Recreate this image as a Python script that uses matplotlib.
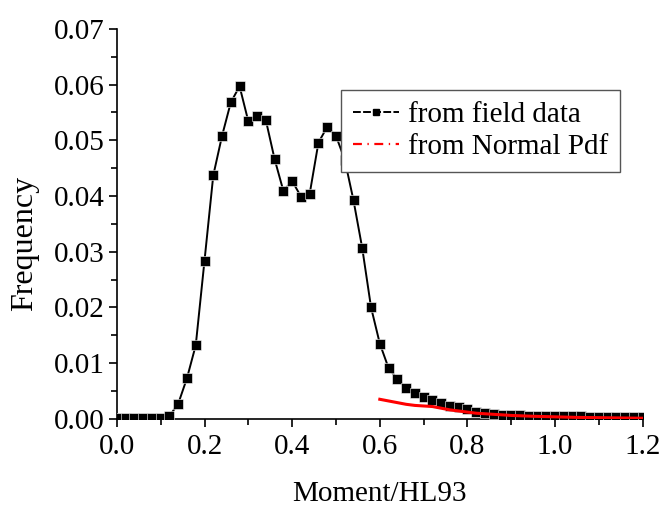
import numpy as np
import matplotlib
matplotlib.use("Agg")
import matplotlib.pyplot as plt
from matplotlib.lines import Line2D
from matplotlib.ticker import MultipleLocator, FormatStrFormatter

plt.rcParams["font.family"] = ["Liberation Serif", "DejaVu Serif"]
plt.rcParams["mathtext.fontset"] = "stix"

# field data histogram (step 0.02)
x_field = np.round(np.arange(0, 1.2001, 0.02), 2)
y_field = [
	0.0002, 0.0002, 0.0002, 0.0002, 0.0002, 0.0002, 0.0005, 0.0027, 0.0073, 0.0132,
	0.0284, 0.0437, 0.0508, 0.0568, 0.0597, 0.0534, 0.0543, 0.0536, 0.0466, 0.0409,
	0.0427, 0.0399, 0.0404, 0.0496, 0.0524, 0.0508, 0.0465, 0.0392, 0.0306, 0.0200,
	0.0135, 0.0091, 0.0071, 0.0055, 0.0047, 0.0039, 0.0034, 0.0028, 0.0023, 0.0021,
	0.0018, 0.0012, 0.0010, 0.00084, 0.0007, 0.00066, 0.0006, 0.00057, 0.00054, 0.0005,
	0.00048, 0.00046, 0.00044, 0.00042, 0.0004, 0.00038, 0.00036, 0.00034, 0.00032, 0.0003,
	0.0003,
]

# normal pdf tail fit
x_pdf = [0.60, 0.62, 0.64, 0.66, 0.68, 0.70, 0.72, 0.74, 0.76, 0.78, 0.80, 0.82, 0.84,
	0.86, 0.88, 0.90, 0.95, 1.00, 1.05, 1.10, 1.15, 1.20]
y_pdf = [0.0035, 0.0032, 0.0029, 0.0026, 0.0024, 0.0023, 0.0022, 0.0019, 0.0016, 0.0014,
	0.0012, 0.0010, 0.0009, 0.0008, 0.0007, 0.0006, 0.00045, 0.00035, 0.00025, 0.0002,
	0.00015, 0.0001]

fig = plt.figure(figsize=(6.64, 5.07), dpi=100)
ax = fig.add_axes([0.176, 0.174, 0.792, 0.769])

ax.plot(x_field, y_field, color="black", lw=1.4, marker="s", ms=7,
	mec="white", mew=0.4, zorder=3)
ax.plot(x_pdf, y_pdf, color="red", lw=2.2, zorder=4)

ax.set_xlim(0, 1.2)
ax.set_ylim(0, 0.07)
ax.xaxis.set_major_locator(MultipleLocator(0.2))
ax.xaxis.set_minor_locator(MultipleLocator(0.1))
ax.yaxis.set_major_locator(MultipleLocator(0.01))
ax.yaxis.set_minor_locator(MultipleLocator(0.005))
ax.xaxis.set_major_formatter(FormatStrFormatter("%.1f"))
ax.yaxis.set_major_formatter(FormatStrFormatter("%.2f"))

for s in ["top", "right"]:
	ax.spines[s].set_visible(False)
for s in ["left", "bottom"]:
	ax.spines[s].set_linewidth(1.2)
ax.tick_params(which="major", length=6, width=1.2, labelsize=21, direction="out")
ax.tick_params(axis="x", which="major", pad=5)
ax.tick_params(axis="y", which="major", pad=3)
ax.tick_params(which="minor", length=4, width=1.2, direction="out")

ax.set_xlabel("Moment/HL93", fontsize=21, labelpad=15)
ax.set_ylabel("Frequency", fontsize=23)
ax.yaxis.set_label_coords(-0.147, 0.45)

h1 = Line2D([], [], color="black", lw=1.4, ls=(0, (4, 1.2)), marker="s", ms=5)
h2 = Line2D([], [], color="red", lw=1.6, ls=(0, (4, 2.5, 0.6, 2.5)))
leg = ax.legend([h1, h2], ["from field data", "from Normal Pdf"], fontsize=21,
	loc="upper left", bbox_to_anchor=(0.426, 0.844), frameon=True, fancybox=False,
	edgecolor="#555555", framealpha=1, handlelength=1.6, handletextpad=0.3,
	borderpad=0.4, labelspacing=0.2, borderaxespad=0)
leg.get_frame().set_linewidth(1.0)
leg.set_zorder(5)

fig.savefig("out.png", dpi=100)
